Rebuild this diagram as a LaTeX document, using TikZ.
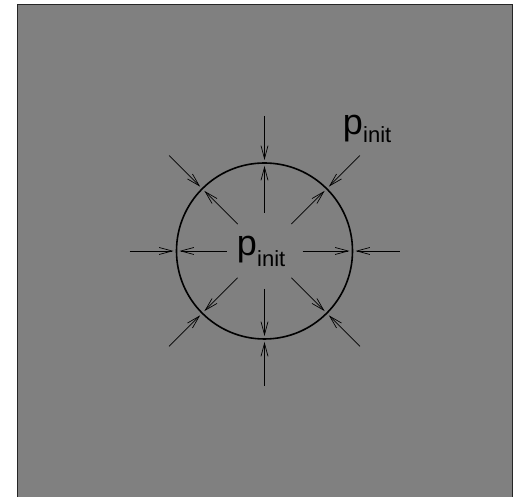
\documentclass[tikz,border=0pt]{standalone}
\usepackage{fontspec}
\setmainfont{Liberation Sans}
\usetikzlibrary{arrows.meta}
\definecolor{bggray}{RGB}{128,128,128}
\tikzset{
  frameline/.style={draw=black!85, line width=1.4pt},
  ring/.style={draw=black, line width=1.6pt},
  push/.style={draw=black, line width=0.7pt, -{Straight Barb[length=13pt,width=7pt,line width=0.7pt]}},
  bigp/.style={inner sep=0pt, anchor=base west, font=\fontsize{36}{36}\selectfont},
  subp/.style={inner sep=0pt, anchor=base west, font=\fontsize{22}{22}\selectfont}
}
\begin{document}
\begin{tikzpicture}[x=1pt,y=1pt]
\useasboundingbox (0,0) rectangle (515,497);
\fill[bggray] (17.5,-3) rectangle (512.3,492.5);
\draw[frameline] (17.5,-3) -- (17.5,492.5) -- (512.3,492.5) -- (512.3,-3);
\coordinate (c) at (264.5,246);
\draw[ring] (c) circle (88);
\foreach \a in {0,45,...,315} {
  \path (c) ++(\a:135) coordinate (os\a);
  \path (c) ++(\a:91) coordinate (oe\a);
  \path (c) ++(\a:38) coordinate (is\a);
  \path (c) ++(\a:85) coordinate (ie\a);
  \draw[push] (os\a) -- (oe\a);
  \draw[push] (is\a) -- (ie\a);
}
\node[bigp] (pc) at (236.6,241) {p};
\node[subp] (ic) at ([yshift=-11pt]pc.base east) {init};
\node[bigp] (pu) at (342.6,362) {p};
\node[subp] (iu) at ([yshift=-8pt]pu.base east) {init};
\end{tikzpicture}
\end{document}
